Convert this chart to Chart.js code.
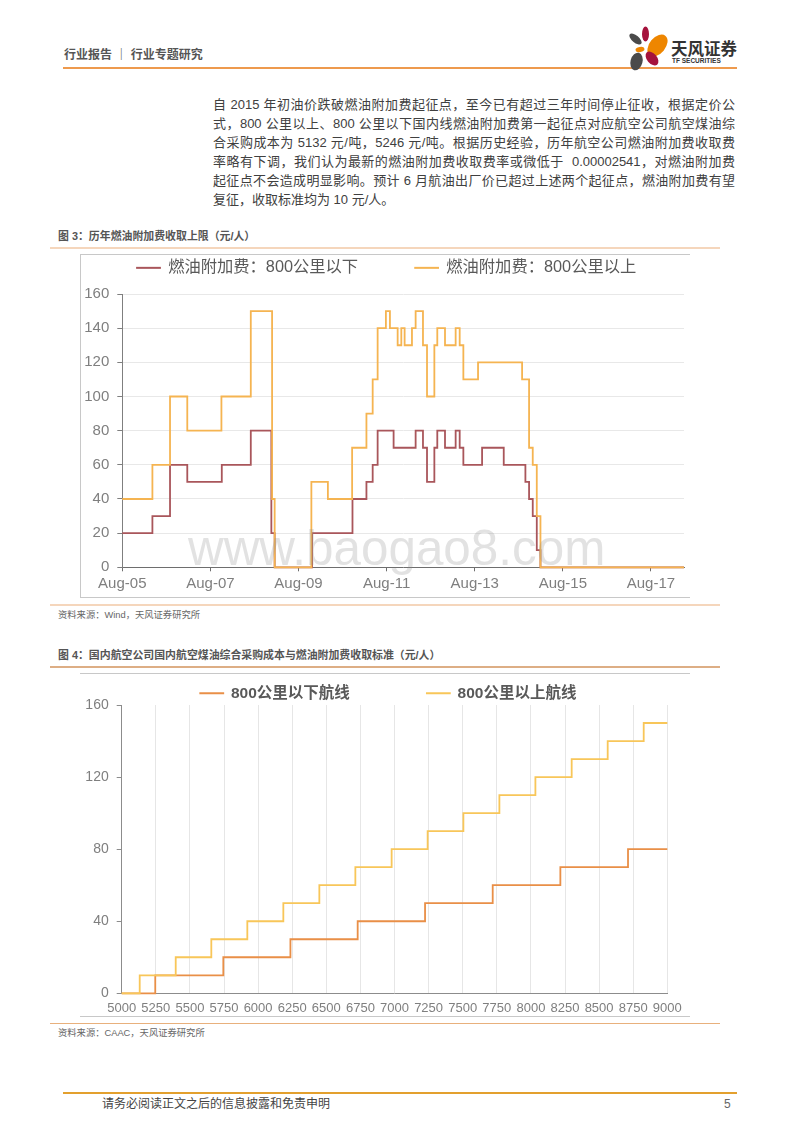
<!DOCTYPE html>
<html><head><meta charset="utf-8">
<script src="https://cdn.jsdelivr.net/npm/chart.js@4"></script>
<style>
html,body{margin:0;padding:0;background:#fff}
#page{position:relative;width:800px;height:1132px;overflow:hidden;font-family:"Liberation Sans","Noto Sans CJK SC",sans-serif;color:#404040}
.t{position:absolute;white-space:nowrap;line-height:1}
.r{position:absolute}
canvas{position:absolute}
.p{position:absolute;left:213px;width:522px;font-size:13px;line-height:1;text-align:justify;text-align-last:justify;text-justify:inter-character}
</style></head><body>
<div id="page">
<div class="t" style="left:64px;top:49px;font-size:12px;font-weight:bold;color:#555">行业报告 ｜ 行业专题研究</div>
<div class="r" style="left:63px;top:67px;width:674px;height:2px;background:#EE9A4D"></div>
<svg class="r" style="left:625px;top:22px" width="50" height="54" viewBox="0 0 50 54">
<ellipse cx="10.5" cy="17" rx="7.5" ry="3.5" fill="#4a4a4a" transform="rotate(40 10.5 17)"/>
<ellipse cx="20.5" cy="12" rx="3.5" ry="7.5" fill="#A5123C"/>
<ellipse cx="32.5" cy="23.5" rx="8" ry="12.5" fill="#EE8600" transform="rotate(40 32.5 23.5)"/>
<ellipse cx="15" cy="27.5" rx="4.5" ry="2.5" fill="#EE8600" transform="rotate(-10 15 27.5)"/>
<ellipse cx="11.5" cy="39.5" rx="6" ry="9" fill="#4a4a4a" transform="rotate(15 11.5 39.5)"/>
<ellipse cx="27" cy="36.5" rx="5" ry="8" fill="#A5123C" transform="rotate(-40 27 36.5)"/>
</svg>
<div class="t" style="left:671px;top:41px;font-size:16.5px;font-weight:bold;color:#333">天风证券</div>
<div class="t" style="left:672px;top:58px;font-size:6.5px;font-weight:bold;color:#333">TF SECURITIES</div>

<div class="p" style="top:98px">自 2015 年初油价跌破燃油附加费起征点，至今已有超过三年时间停止征收，根据定价公</div>
<div class="p" style="top:117px">式，800 公里以上、800 公里以下国内线燃油附加费第一起征点对应航空公司航空煤油综</div>
<div class="p" style="top:136px">合采购成本为 5132 元/吨，5246 元/吨。根据历史经验，历年航空公司燃油附加费收取费</div>
<div class="p" style="top:155px">率略有下调，我们认为最新的燃油附加费收取费率或微低于&nbsp; 0.00002541，对燃油附加费</div>
<div class="p" style="top:174px">起征点不会造成明显影响。预计 6 月航油出厂价已超过上述两个起征点，燃油附加费有望</div>
<div class="t" style="left:213px;top:193px;font-size:13px">复征，收取标准均为 10 元/人。</div>

<div class="t" style="left:58px;top:231px;font-size:10.9px;font-weight:bold;color:#555">图 3：历年燃油附加费收取上限（元/人）</div>
<div class="r" style="left:50px;top:247px;width:670px;height:2px;background:#F5D6BC"></div>
<div class="r" style="left:80px;top:254px;width:610px;height:344px;border-top:1px solid #c8c8c8;border-left:1px solid #c8c8c8;border-bottom:1px solid #c8c8c8;box-sizing:border-box"></div>
<canvas id="c1" width="610" height="343" style="left:81px;top:255px;width:610px;height:343px"></canvas>
<div class="r" style="left:50px;top:604px;width:670px;height:1.5px;background:#F5D6BC"></div>
<div class="t" style="left:58px;top:611px;font-size:9.3px;color:#666">资料来源：Wind，天风证券研究所</div>

<div class="t" style="left:58px;top:650px;font-size:10.9px;font-weight:bold;color:#555">图 4：国内航空公司国内航空煤油综合采购成本与燃油附加费收取标准（元/人）</div>
<div class="r" style="left:50px;top:666px;width:670px;height:1.5px;background:#DDAE85"></div>
<div class="r" style="left:80px;top:673px;width:610px;height:1px;background:#c8c8c8"></div>
<canvas id="c2" width="610" height="342" style="left:84px;top:674px;width:610px;height:342px"></canvas>
<div class="r" style="left:80px;top:1016px;width:610px;height:1px;background:#c8c8c8"></div>
<div class="r" style="left:50px;top:1023px;width:670px;height:1px;background:#E8B07C"></div>
<div class="t" style="left:58px;top:1029px;font-size:9.3px;color:#666">资料来源：CAAC，天风证券研究所</div>

<div class="r" style="left:63px;top:1092px;width:674px;height:2px;background:#E3A02E"></div>
<div class="t" style="left:102px;top:1098px;font-size:12px;color:#444">请务必阅读正文之后的信息披露和免责申明</div>
<div class="t" style="left:724px;top:1098px;font-size:12px;color:#666">5</div>
<div class="t" style="left:188px;top:523px;font-size:49.4px;color:rgba(140,140,140,.25);pointer-events:none">www.baogao8.com</div>
</div>
<script>
// Figure 3: months since Aug-05 at which each step starts, with the value held from there
const feeMonthsLabel = ['Aug-05','Aug-07','Aug-09','Aug-11','Aug-13','Aug-15','Aug-17'];
const belowName = '燃油附加费：800公里以下';
const aboveName = '燃油附加费：800公里以上';
const belowMonths = [0,8.2,13,17.7,27.1,35,40.6,41.5,51.7,62.7,66.5,68.2,69.55,73.9,79.9,81.9,83,85,85.8,87.9,90.8,91.9,92.9,98,103.9,109.8,110.8,111.8,112.9,113.9,153];
const belowFee    = [20,30,60,50,60,80,20,0,20,40,50,60,80,70,80,70,50,70,80,70,80,70,60,70,60,50,40,30,10,0,0];
const aboveMonths = [0,8.2,13,17.7,27,35,40.8,41.5,51.5,56,62.6,66.5,68.2,69.55,71.8,72.9,75,76,76.9,78.9,79.9,81.9,83,85,85.8,87.9,90.8,91.9,92.9,96.9,108.9,110.8,111.8,112.9,113.9,153];
const aboveFee    = [40,60,100,80,100,150,40,0,50,40,70,90,110,140,150,140,130,140,130,140,150,130,100,130,140,130,140,130,110,120,110,70,60,30,0,0];

// Figure 4: jet fuel cost at which each step starts, with the value held from there
const shortName = '800公里以下航线';
const longName = '800公里以上航线';
const shortCost = [5000,5246,5745,6237,6730,7224,7720,8216,8712,9000];
const shortFee  = [0,10,20,30,40,50,60,70,80,80];
const longCost  = [5000,5132,5396,5657,5921,6185,6449,6713,6979,7243,7505,7769,8033,8299,8563,8827,9000];
const longFee   = [0,10,20,30,40,50,60,70,80,90,100,110,120,130,140,150,150];

const FAMILY = "'Liberation Sans','Noto Sans CJK SC',sans-serif";
const pts = (xs, ys) => xs.map((x, i) => ({x, y: ys[i]}));
const byDataset = (a, b) => a.datasetIndex - b.datasetIndex;
// Keeps the wide legend gap on one row without letting it push the plot area down.
const legendBox = (h, startX) => ({id:'legendBox', beforeInit(chart){
  const lg = chart.legend, fit = lg.fit, draw = lg.draw;
  lg.fit = function(){ const w = lg.maxWidth; lg.maxWidth = 3000; fit.call(lg); lg.maxWidth = w; lg.width = w; lg.height = h; };
  lg.draw = function(){ const l = lg.left, r = lg.right; lg.left = startX - lg.options.labels.padding; lg.right = 3000; draw.call(lg); lg.left = l; lg.right = r; };
}});
const lineDs = (label, data, color, order) => ({label, data, borderColor:color, backgroundColor:color, borderWidth:1.8,
  stepped:true, pointRadius:0, fill:false, order, borderJoinStyle:'miter', clip:false});

new Chart(document.getElementById('c1'), {
  type:'line',
  data:{datasets:[
    lineDs(belowName, pts(belowMonths, belowFee), '#A9565B', 2),
    lineDs(aboveName, pts(aboveMonths, aboveFee), '#F5B451', 1)
  ]},
  options:{responsive:false, animation:false,
    layout:{padding:{top:-52.3,left:0,right:7,bottom:0}},
    plugins:{tooltip:{enabled:false},
      legend:{align:'start',labels:{sort:byDataset,padding:57,boxWidth:23,boxHeight:0.2,color:'#595959',font:{family:FAMILY,size:16.3}}}},
    scales:{
      x:{type:'linear',min:0,max:153,
        afterFit:s=>{s.height=30.7},
        afterBuildTicks:s=>{s.ticks=feeMonthsLabel.map((_,i)=>({value:i*24}))},
        border:{color:'#6e6e6e',width:1},
        grid:{drawOnChartArea:false,tickLength:4,tickColor:'#6e6e6e'},
        ticks:{stepSize:24,autoSkip:false,maxRotation:0,padding:4,color:'#7f7f7f',font:{family:FAMILY,size:15},
          callback:v=>feeMonthsLabel[v/24]}},
      y:{min:0,max:160,
        afterFit:s=>{s.width=41.3},
        border:{color:'#7f7f7f',width:1},
        grid:{color:'#e8e8e8',tickColor:'#7f7f7f',tickLength:5},
        ticks:{stepSize:20,padding:8,color:'#7f7f7f',font:{family:FAMILY,size:15}}}
    }},
  plugins:[legendBox(91.3, 56)]
});

new Chart(document.getElementById('c2'), {
  type:'line',
  data:{datasets:[
    lineDs(shortName, pts(shortCost, shortFee), '#E98F47', 2),
    lineDs(longName, pts(longCost, longFee), '#F8C659', 1)
  ]},
  options:{responsive:false, animation:false,
    layout:{padding:{top:-65.5,left:0,right:26.7,bottom:0}},
    plugins:{tooltip:{enabled:false},
      legend:{align:'start',labels:{sort:byDataset,padding:77,boxWidth:23,boxHeight:0.2,color:'#595959',font:{family:FAMILY,size:15.5,weight:'bold'}}}},
    scales:{
      x:{type:'linear',min:5000,max:9000,
        afterFit:s=>{s.height=22.7},
        border:{color:'#8c8c8c',width:1},
        grid:{color:'#e6e6e6',drawTicks:false},
        ticks:{stepSize:250,autoSkip:false,maxRotation:0,padding:7,color:'#7f7f7f',font:{family:FAMILY,size:13},
          callback:v=>String(v)}},
      y:{min:0,max:160,
        afterFit:s=>{s.width=37.7},
        border:{color:'#8c8c8c',width:1},
        grid:{drawOnChartArea:false,tickColor:'#8c8c8c',tickLength:5},
        ticks:{stepSize:40,padding:8,color:'#7f7f7f',font:{family:FAMILY,size:14}}}
    }},
  plugins:[legendBox(96.5, 116.25)]
});
</script>
</body></html>
